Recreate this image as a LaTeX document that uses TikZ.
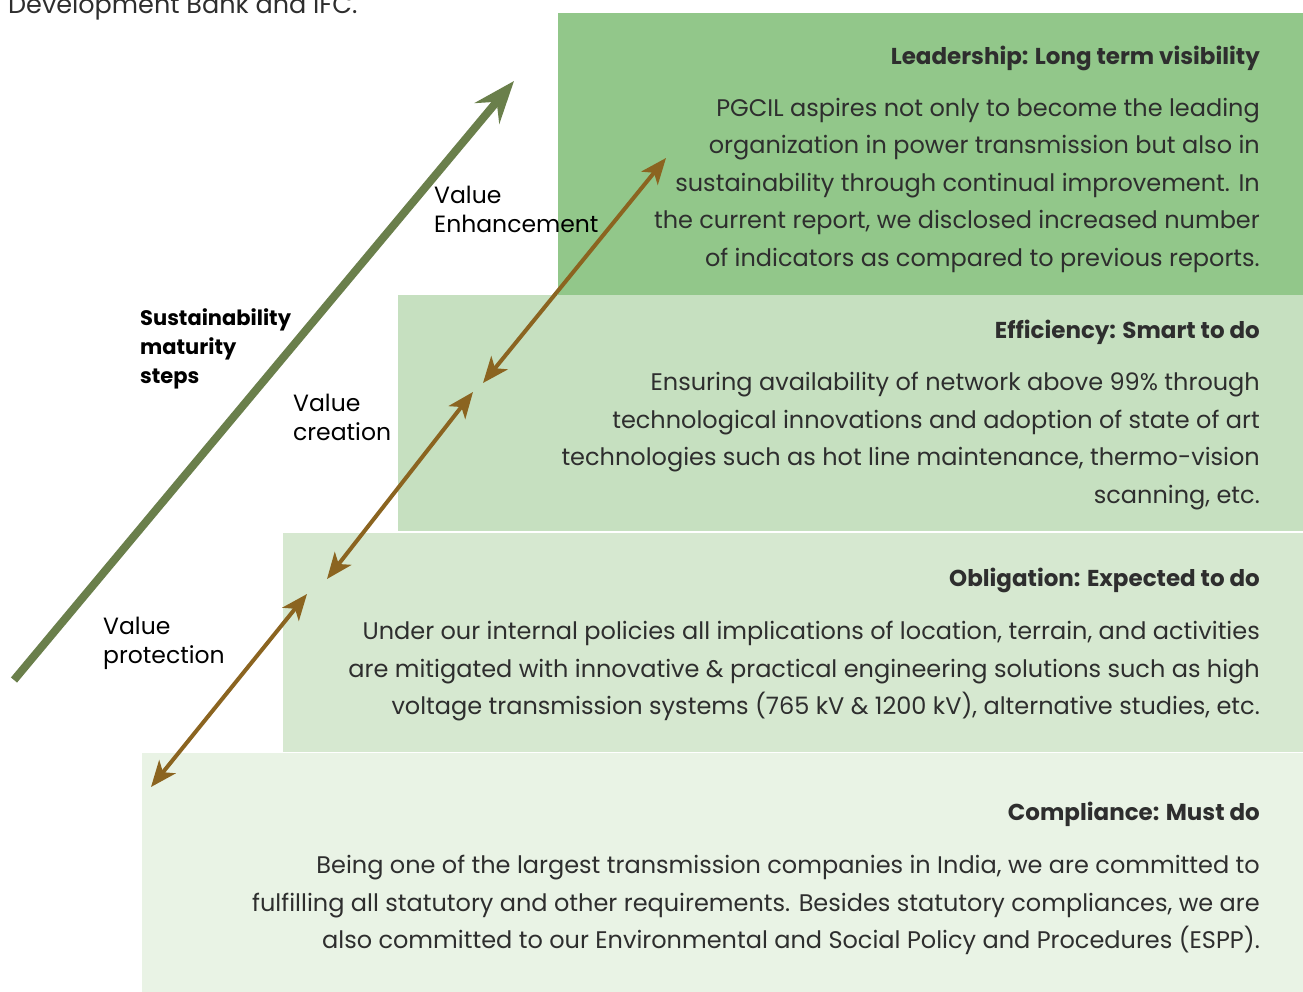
\documentclass[tikz,border=0pt]{standalone}
\usepackage{fontspec}
\setmainfont{Poppins}
\usetikzlibrary{arrows.meta}

\definecolor{leadgreen}{HTML}{92C78A}
\definecolor{effgreen}{HTML}{C6E0C0}
\definecolor{oblgreen}{HTML}{D6E8D0}
\definecolor{compgreen}{HTML}{E9F3E5}
\definecolor{olivearrow}{HTML}{6A7F4B}
\definecolor{brownarrow}{HTML}{8B6420}
\definecolor{textgray}{HTML}{2E2E2E}

\tikzset{
	stepbox/.style={anchor=north west, inner sep=0, outer sep=0, draw=none},
	steptitle/.style={anchor=east, inner sep=0, text=textgray, font=\bfseries\fontsize{23}{27}\selectfont},
	steptext/.style={anchor=north east, inner sep=0, align=right, text=textgray, font=\fontsize{24}{37.5}\selectfont},
	sidelabel/.style={anchor=north west, inner sep=0, align=left, font=\fontsize{23.5}{29}\selectfont},
	valuearrow/.style={draw=brownarrow, line width=4pt,
		{Stealth[length=26pt,width=21pt,inset=7pt]}-{Stealth[length=26pt,width=21pt,inset=7pt]}},
}

\begin{document}
\begin{tikzpicture}[x=1pt,y=-1pt]
	\useasboundingbox (0,0) rectangle (1303,992);

	% the four steps, top to bottom
	\node[stepbox, fill=leadgreen, minimum width=745, minimum height=282] (lead) at (558,13) {};
	\node[stepbox, fill=effgreen, minimum width=905, minimum height=236] (eff) at (398,295) {};
	\node[stepbox, fill=oblgreen, minimum width=1020, minimum height=219] (obl) at (283,533) {};
	\node[stepbox, fill=compgreen, minimum width=1161, minimum height=240] (comp) at (142,753) {};

	\node[anchor=base west, inner sep=0, text=textgray, font=\fontsize{25.5}{30}\selectfont] (prev) at (8,14) {Development Bank and IFC.};

	\node[steptitle] (leadtitle) at (1260,58) {Leadership: Long term visibility};
	\node[steptext] (leadtext) at (1260,98) {PGCIL aspires not only to become the leading\\ organization in power transmission but also in\\ sustainability through continual improvement. In\\ the current report, we disclosed increased number\\ of indicators as compared to previous reports.};

	\node[steptitle] (efftitle) at (1260,332) {Efficiency: Smart to do};
	\node[steptext] (efftext) at (1260,372) {Ensuring availability of network above 99\% through\\ technological innovations and adoption of state of art\\ technologies such as hot line maintenance, thermo-vision\\ scanning, etc.};

	\node[steptitle] (obltitle) at (1260,580) {Obligation: Expected to do};
	\node[steptext] (obltext) at (1260,621) {Under our internal policies all implications of location, terrain, and activities\\ are mitigated with innovative \& practical engineering solutions such as high\\ voltage transmission systems (765 kV \& 1200 kV), alternative studies, etc.};

	\node[steptitle] (comptitle) at (1260,814) {Compliance: Must do};
	\node[steptext] (comptext) at (1260,855) {Being one of the largest transmission companies in India, we are committed to\\ fulfilling all statutory and other requirements. Besides statutory compliances, we are\\ also committed to our Environmental and Social Policy and Procedures (ESPP).};

	% maturity arrow
	\coordinate (base) at (14,680);
	\coordinate (top) at (514,81);
	\draw[olivearrow, line width=8pt, -{Stealth[length=42pt,width=32pt,inset=15pt]}] (base) -- (top);

	\node[sidelabel, font=\bfseries\fontsize{21}{29}\selectfont] (maturity) at (140,308) {Sustainability\\ maturity\\ steps};
	\node[sidelabel] (enhance) at (434,186) {Value\\ Enhancement};
	\node[sidelabel] (creation) at (293,394) {Value\\ creation};
	\node[sidelabel] (protect) at (103,617) {Value\\ protection};

	% value arrows between the steps
	\coordinate (p1) at (151,787);
	\coordinate (p2) at (307,594);
	\coordinate (c1) at (327,579);
	\coordinate (c2) at (473,392);
	\coordinate (e1) at (483,383);
	\coordinate (e2) at (666,158);
	\draw[valuearrow] (p1) -- (p2);
	\draw[valuearrow] (c1) -- (c2);
	\draw[valuearrow] (e1) -- (e2);
\end{tikzpicture}
\end{document}
